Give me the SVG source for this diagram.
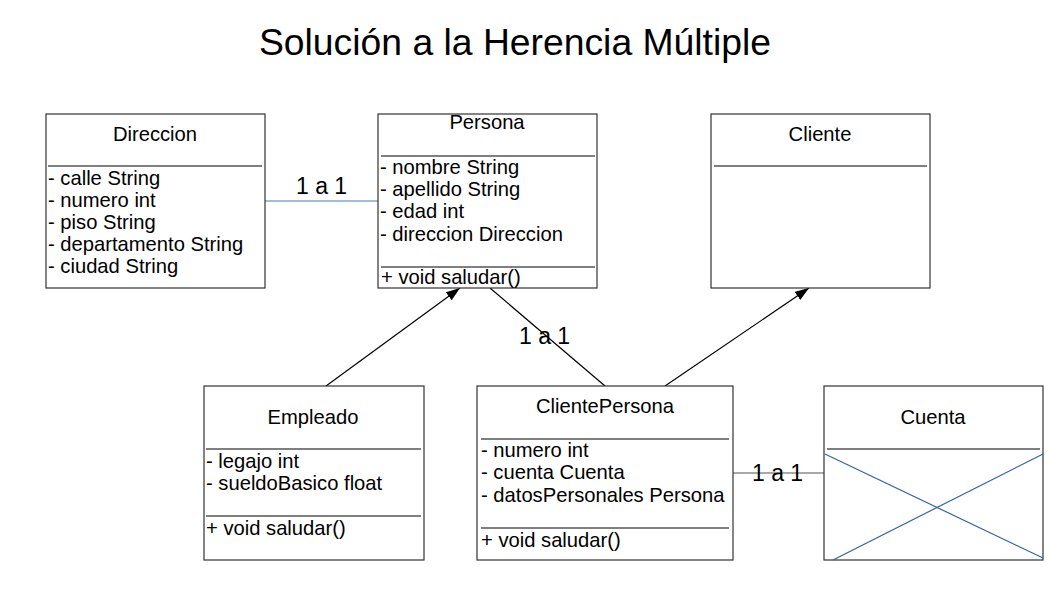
<svg xmlns="http://www.w3.org/2000/svg" width="1058" height="595" viewBox="0 0 1058 595">
<style>
text{font-family:"Liberation Sans",Arial,sans-serif;fill:#000}
.t{font-size:37.3px}
.n{font-size:20.2px;text-anchor:middle}
.a{font-size:20.2px}
.l{font-size:23px}
.box{fill:#fff;stroke:#333;stroke-width:1.2}
.sep{stroke:#000;stroke-width:1.2}
.c{stroke:#000;stroke-width:1.2;fill:none}
.x{stroke:#3465a4;stroke-width:1.2}
</style>
<defs>
<marker id="arr" viewBox="0 0 14 10" refX="14" refY="5" markerWidth="14" markerHeight="10" markerUnits="userSpaceOnUse" orient="auto">
<path d="M0,0 L14,5 L0,10 z" fill="#000"/>
</marker>
</defs>
<rect width="1058" height="595" fill="#fff"/>
<text class="t" x="515" y="55" text-anchor="middle">Solución a la Herencia Múltiple</text>

<g id="connectors">
<line x1="265" y1="201" x2="378" y2="201" stroke="#4a7ab0" stroke-width="1.2"/>
<text class="l" x="296" y="194">1 a 1</text>
<line class="c" x1="326" y1="386" x2="460" y2="288" marker-end="url(#arr)"/>
<line class="c" x1="665" y1="386" x2="809" y2="288" marker-end="url(#arr)"/>
<line class="c" x1="490" y1="288" x2="605" y2="386"/>
<text class="l" x="519" y="344">1 a 1</text>
<line x1="733" y1="473" x2="824" y2="473" stroke="#555" stroke-width="1.2"/>
<text class="l" x="752" y="481">1 a 1</text>
</g>

<g id="direccion">
<rect class="box" x="46" y="114" width="219" height="174"/>
<text class="n" x="155" y="141">Direccion</text>
<line class="sep" x1="48" y1="166" x2="262" y2="166"/>
<text class="a" x="48" y="185">- calle String</text>
<text class="a" x="48" y="207">- numero int</text>
<text class="a" x="48" y="229">- piso String</text>
<text class="a" x="48" y="251">- departamento String</text>
<text class="a" x="48" y="273">- ciudad String</text>
</g>

<g id="persona">
<rect class="box" x="378" y="114" width="219" height="174"/>
<text class="n" x="487" y="129">Persona</text>
<line class="sep" x1="381" y1="156" x2="595" y2="156"/>
<text class="a" x="380" y="174">- nombre String</text>
<text class="a" x="380" y="196">- apellido String</text>
<text class="a" x="380" y="218">- edad int</text>
<text class="a" x="380" y="241">- direccion Direccion</text>
<line class="sep" x1="381" y1="267" x2="595" y2="267"/>
<text class="a" x="381" y="284">+ void saludar()</text>
</g>

<g id="cliente">
<rect class="box" x="711" y="114" width="219" height="174"/>
<text class="n" x="820" y="141">Cliente</text>
<line class="sep" x1="714" y1="166" x2="927" y2="166"/>
</g>

<g id="empleado">
<rect class="box" x="204" y="386" width="220" height="174"/>
<text class="n" x="313" y="424">Empleado</text>
<line class="sep" x1="206" y1="449" x2="421" y2="449"/>
<text class="a" x="206" y="468">- legajo int</text>
<text class="a" x="206" y="490">- sueldoBasico float</text>
<line class="sep" x1="206" y1="516" x2="421" y2="516"/>
<text class="a" x="206" y="535">+ void saludar()</text>
</g>

<g id="clientepersona">
<rect class="box" x="477" y="386" width="256" height="174"/>
<text class="n" x="605" y="413">ClientePersona</text>
<line class="sep" x1="481" y1="439" x2="729" y2="439"/>
<text class="a" x="481" y="457">- numero int</text>
<text class="a" x="481" y="479">- cuenta Cuenta</text>
<text class="a" x="481" y="502">- datosPersonales Persona</text>
<line class="sep" x1="481" y1="528" x2="729" y2="528"/>
<text class="a" x="481" y="547">+ void saludar()</text>
</g>

<g id="cuenta">
<rect class="box" x="824" y="386" width="219" height="174"/>
<text class="n" x="933" y="424">Cuenta</text>
<line class="sep" x1="827" y1="449" x2="1040" y2="449"/>
<line class="x" x1="825" y1="454" x2="1043" y2="558" stroke-width="2.2"/>
<line class="x" x1="833" y1="560" x2="1043" y2="454"/>
</g>
</svg>
